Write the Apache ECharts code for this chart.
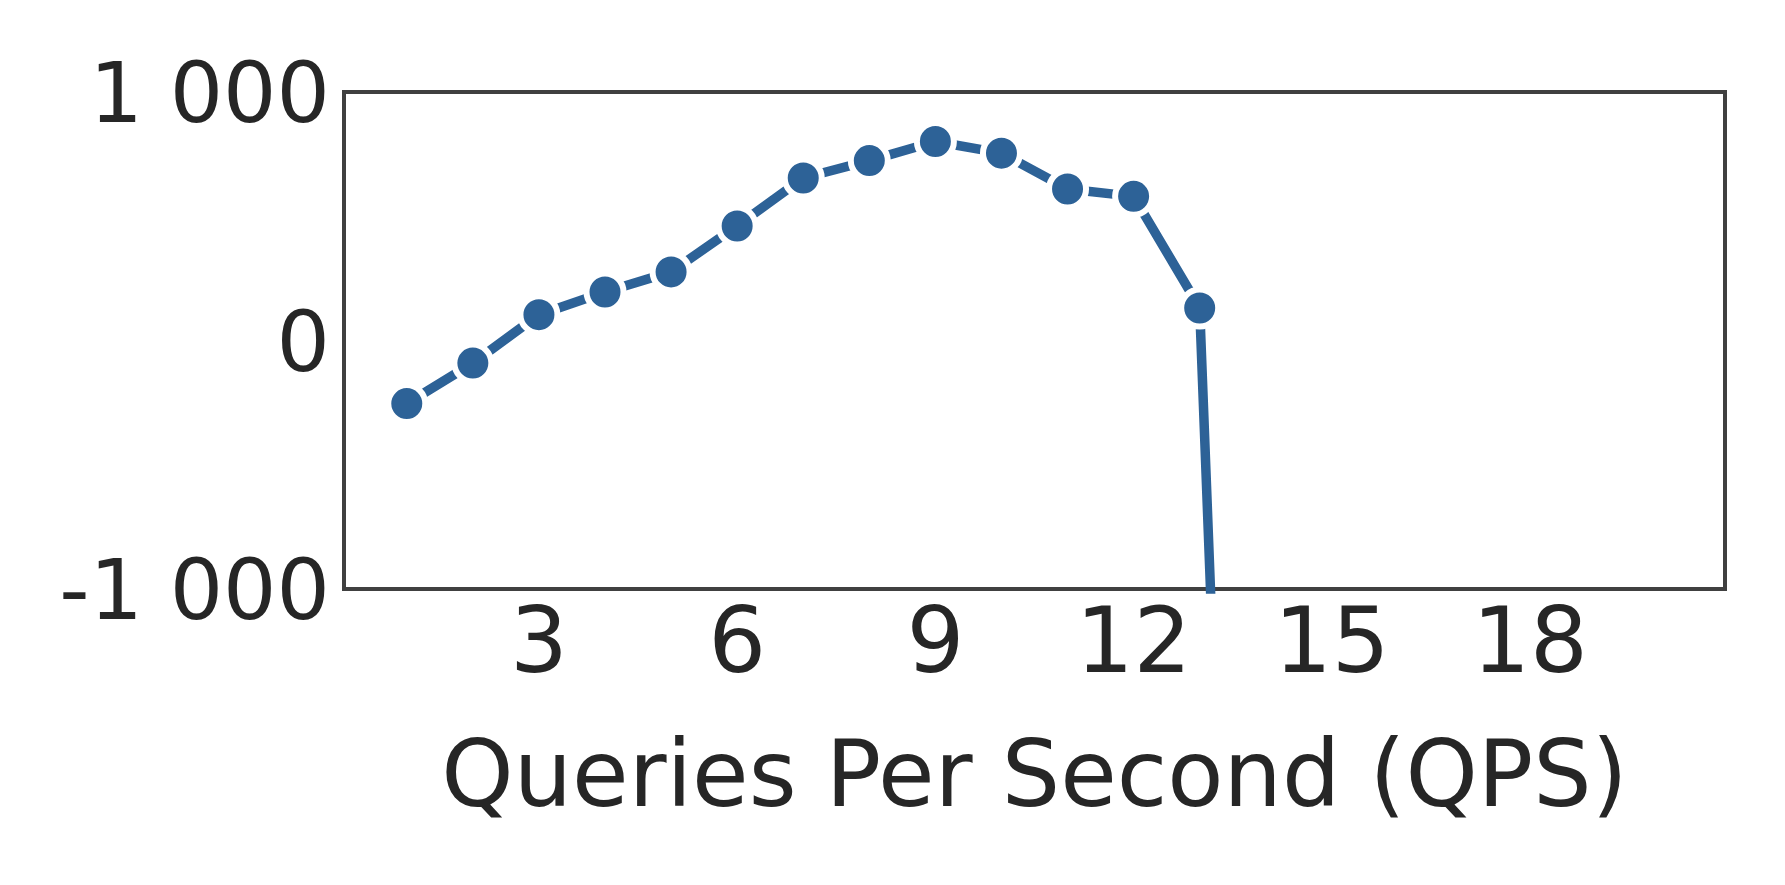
<!DOCTYPE html>
<html>
<head>
<meta charset="utf-8">
<script src="https://cdn.jsdelivr.net/npm/echarts@6/dist/echarts.min.js"></script>
<style>
html,body{margin:0;padding:0;background:#fff;}
#chart{width:1785px;height:885px;}
</style>
</head>
<body>
<div id="chart"></div>
<script>
// Data
const qps = [1, 2, 3, 4, 5, 6, 7, 8, 9, 10, 11, 12, 13, 14];
const values = [-254, -91, 104, 195, 276, 461, 654, 724, 801, 754, 610, 580, 131, -6800];
const xTickValues = [3, 6, 9, 12, 15, 18];
const yTickValues = [-1000, 0, 1000];
const xTitle = 'Queries Per Second (QPS)';

function fmt(v) {
  const s = Math.abs(v).toString().replace(/\B(?=(\d{3})+(?!\d))/g, ' ');
  return (v < 0 ? '-' : '') + s;
}

const chart = echarts.init(document.getElementById('chart'), null, {renderer: 'canvas'});
const font = 'DejaVu Sans';
chart.setOption({
  backgroundColor: '#ffffff',
  animation: false,
  grid: {
    left: 344, right: 60, top: 92, bottom: 296,
    show: true, borderColor: '#404040', borderWidth: 4, backgroundColor: 'transparent'
  },
  xAxis: {
    type: 'value',
    min: 0.05, max: 20.95,
    name: xTitle,
    nameLocation: 'middle',
    nameGap: 147,
    nameTextStyle: {fontFamily: font, fontSize: 92, color: '#262626'},
    axisLine: {show: false},
    axisTick: {show: false},
    splitLine: {show: false},
    axisLabel: {
      customValues: xTickValues,
      fontFamily: font, fontSize: 91, color: '#262626', margin: 14,
      formatter: v => String(v)
    }
  },
  yAxis: {
    type: 'value',
    min: -1000, max: 1000, interval: 1000,
    axisLine: {show: false},
    axisTick: {show: false},
    splitLine: {show: false},
    axisLabel: {
      customValues: yTickValues,
      fontFamily: font, fontSize: 84, color: '#262626', margin: 14,
      verticalAlign: 'top', lineHeight: 17,
      formatter: v => fmt(v)
    }
  },
  series: [{
    type: 'line',
    data: qps.map((x, i) => [x, values[i]]),
    clip: true,
    symbol: 'circle',
    symbolSize: 37,
    showAllSymbol: true,
    lineStyle: {color: '#2d6297', width: 9.5},
    itemStyle: {color: '#2d6297', borderColor: '#ffffff', borderWidth: 6}
  }]
});
</script>
</body>
</html>
